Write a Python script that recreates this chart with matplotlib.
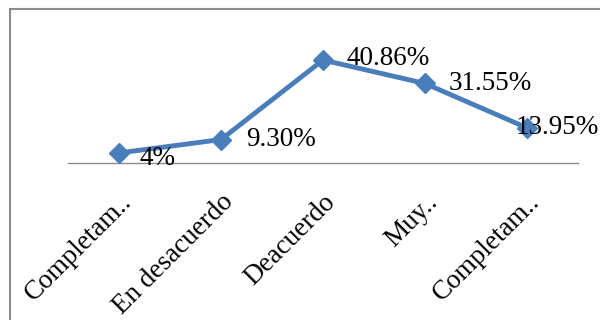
import matplotlib
matplotlib.use("Agg")
import matplotlib.pyplot as plt
from matplotlib.patches import Rectangle

categorias = ["Completam..", "En desacuerdo", "Deacuerdo", "Muy..", "Completam.."]
porcentajes = [4.0, 9.30, 40.86, 31.55, 13.95]
etiquetas = ["4%", "9.30%", "40.86%", "31.55%", "13.95%"]

# desplazamiento (puntos) de cada etiqueta respecto a su marcador
desplaz = [(15, -4), (18, 0), (17, 1), (17, 0), (-8, 0)]

plt.rcParams['font.family'] = ['Liberation Serif', 'DejaVu Serif']

fig = plt.figure(figsize=(6, 3.2), dpi=100)
ax = fig.add_axes([68/600, 157/320, 510/600, 126/320])

x = list(range(len(categorias)))
ax.plot(x, porcentajes, color="#4A7EBB", linewidth=3.5, marker="D",
        markersize=10, clip_on=False, zorder=3)

for xi, yi, txt, off in zip(x, porcentajes, etiquetas, desplaz):
    ax.annotate(txt, (xi, yi), xytext=off, textcoords="offset points",
                ha="left", va="center", fontsize=19.5, color="black", zorder=4)

ax.set_xlim(-0.5, len(categorias) - 0.5)
ax.set_ylim(0, 50)
ax.set_yticks([])
ax.set_xticks(x)
ax.set_xticklabels(categorias, rotation=45, ha="right", rotation_mode="anchor",
                   fontsize=19.5)
ax.tick_params(axis="x", length=0, pad=19)
for s in ["top", "right", "left"]:
    ax.spines[s].set_visible(False)
ax.spines["bottom"].set_color("#8c8c8c")
ax.spines["bottom"].set_linewidth(1)
ax.patch.set_alpha(0)

# marco del gráfico
fig.patches.append(Rectangle((10/600, -0.1), 1.0, (320 - 9)/320 + 0.1,
                             transform=fig.transFigure, fill=False,
                             edgecolor="#8c8c8c", linewidth=1.5))

fig.savefig("out.png", dpi=100)
